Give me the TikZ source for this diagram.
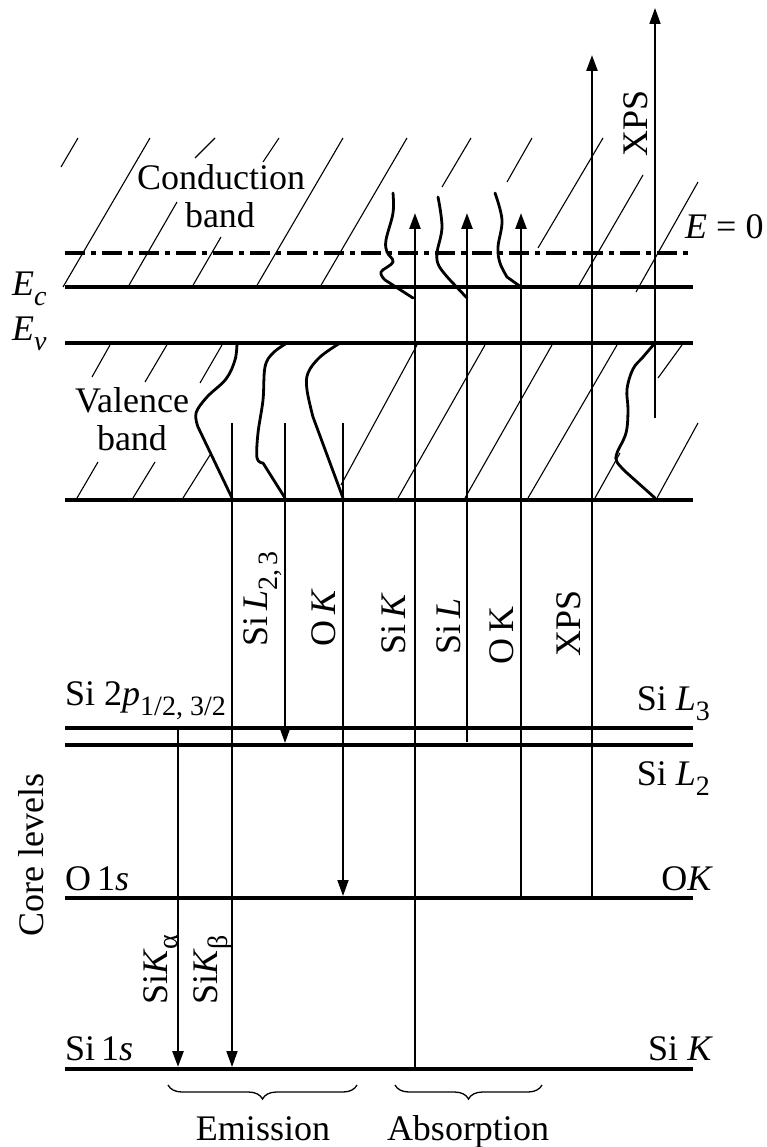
\documentclass[tikz,border=0pt]{standalone}
\usepackage{fontspec}
\setmainfont{Liberation Serif}
\usetikzlibrary{arrows.meta,decorations.pathreplacing}
\newcommand\lsb[1]{\raisebox{-10pt}{\fontsize{28}{28}\selectfont #1}}
\begin{document}
\begin{tikzpicture}[x=1pt,y=-1pt,
  every node/.style={font=\fontsize{36}{40}\selectfont, inner sep=0pt},
  level/.style={line width=3.6pt},
  hatch/.style={line width=1.1pt},
  dos/.style={line width=2.8pt, line join=round, line cap=round},
  tr/.style={line width=2.6pt},
  thintr/.style={line width=1.8pt},
  tip/.style={-{Triangle[length=16pt,width=11pt]}},
  rlab/.style={rotate=90, anchor=base west},
  brc/.style={decorate, decoration={brace, mirror, amplitude=14pt, aspect=0.5}, line width=1.3pt},
]
\useasboundingbox (0,0) rectangle (767,1147);

% ---------- hatching, conduction band ----------
\foreach \a/\b/\c/\d in {61/167/78/138, 63/287/150/138, 128/287/177/202, 195/158/215/138,
  192/287/221/237, 263/162/279/138, 256/287/343/138, 320/287/407/138,
  442/187/471/138, 507/182/532/138, 538/248/603/138, 578/287/643/175, 636/292/698/182}
  \draw[hatch] (\a,\b) -- (\c,\d);
% ---------- hatching, valence band ----------
\foreach \a/\b/\c/\d in {92/377/110/345, 77/498/98/462, 145/382/168/343, 133/498/155/462,
  200/383/222/345, 183/498/210/455, 341/485/417/345, 398/498/485/345, 465/498/552/345,
  528/498/617/345, 595/498/620/453, 658/378/682/345, 657/498/698/423}
  \draw[hatch] (\a,\b) -- (\c,\d);

% ---------- levels ----------
\coordinate (L0w) at (65,253);  \coordinate (L0e) at (693,253);
\coordinate (Ecw) at (65,287);  \coordinate (Ece) at (693,287);
\coordinate (Evw) at (65,343);  \coordinate (Eve) at (693,343);
\coordinate (Vbw) at (65,500);  \coordinate (Vbe) at (693,500);
\coordinate (L3w) at (65,728);  \coordinate (L3e) at (693,728);
\coordinate (L2w) at (65,745);  \coordinate (L2e) at (693,745);
\coordinate (Ow) at (65,898);   \coordinate (Oe) at (693,898);
\coordinate (Kw) at (65,1069);  \coordinate (Ke) at (693,1069);
\draw[level, dash pattern=on 20pt off 6pt on 5pt off 6pt] (L0w) -- (L0e);
\foreach \p in {Ec,Ev,Vb,L3,L2,K}
  \draw[level] (\p w) -- (\p e);
\draw[level] (Ow) -- (Oe);

% ---------- DOS curves, conduction band ----------
\draw[dos] plot[smooth, tension=0.6] coordinates {(393,193) (393,213) (386,240) (387,252) (393,262) (381,272) (385,280)} -- (413,298);
\draw[dos] plot[smooth, tension=0.6] coordinates {(438,197) (442,227) (437,253) (439,266) (450,280)} -- (467,298);
\draw[dos] plot[smooth, tension=0.6] coordinates {(495,193) (502,220) (498,247) (500,263) (507,277)} -- (521,287);
% ---------- DOS curves, valence band ----------
\draw[dos] plot[smooth, tension=0.6] coordinates {(237,343) (235,360) (226,379) (207,397) (196,413) (198,427)} -- (232,498);
\draw[dos] plot[smooth, tension=0.6] coordinates {(287,343) (273,353) (265,367) (263,400) (258,433) (257,458) (263,463)} -- (285,498);
\draw[dos] plot[smooth, tension=0.6] coordinates {(340,343) (320,357) (308,373) (307,390) (313,417)} -- (343,498);
\draw[dos] plot[smooth, tension=0.6] coordinates {(655,343) (643,357) (633,369) (627,389) (628,410) (626,433) (617,453) (617,462) (627,473)} -- (655,498);

% ---------- transitions ----------
\coordinate (sk0) at (415,1069); \coordinate (sk1) at (415,213);
\coordinate (sl0) at (467,742);  \coordinate (sl1) at (467,213);
\coordinate (ok0) at (521,898);  \coordinate (ok1) at (521,213);
\coordinate (xp0) at (592,898);  \coordinate (xp1) at (592,55);
\coordinate (xt0) at (655,418);  \coordinate (xt1) at (655,8);
\draw[tr,tip] (sk0) -- (sk1);
\draw[tr,tip] (sl0) -- (sl1);
\draw[tr,tip] (ok0) -- (ok1);
\draw[tr,tip] (xp0) -- (xp1);
\draw[thintr,tip] (xt0) -- (xt1);

\coordinate (ka0) at (178,728);  \coordinate (ka1) at (178,1067);
\coordinate (kb0) at (232,423);  \coordinate (kb1) at (232,1067);
\coordinate (le0) at (285,423);  \coordinate (le1) at (285,743);
\coordinate (oe0) at (343,423);  \coordinate (oe1) at (343,896);
\draw[tr,tip] (ka0) -- (ka1);
\draw[thintr,tip] (kb0) -- (kb1);
\draw[thintr,tip] (le0) -- (le1);
\draw[thintr,tip] (oe0) -- (oe1);

% ---------- labels ----------
\node[anchor=base] (cb1) at (221,190) {Conduction};
\node[anchor=base] (cb2) at (220,228) {band};
\node[anchor=base] (vb1) at (132,412) {Valence};
\node[anchor=base] (vb2) at (132,450) {band};
\node[anchor=base west] (ec) at (12,295) {\textit{E}\lsb{\textit{c}}};
\node[anchor=base west] (ev) at (12,340) {\textit{E}\lsb{\textit{v}}};
\node[anchor=base west] (e0) at (685,239) {\textit{E} = 0};

\node[anchor=base west] (l2p) at (65,705) {Si 2\textit{p}\lsb{1/2, 3/2}};
\node[anchor=base east] (l3) at (710,710) {Si \textit{L}\lsb{3}};
\node[anchor=base east] (l2) at (710,785) {Si \textit{L}\lsb{2}};
\node[anchor=base west] (o1s) at (65,890) {O\,1\textit{s}};
\node[anchor=base east] (ok) at (713,890) {O\textit{K}};
\node[anchor=base west] (si1s) at (65,1060) {Si\,1\textit{s}};
\node[anchor=base east] (sik) at (713,1060) {Si \textit{K}};

\node[rlab] (core) at (43,937) {Core levels};
\node[rlab] (tka) at (167,1005) {Si\textit{K}\lsb{α}};
\node[rlab] (tkb) at (217,1005) {Si\textit{K}\lsb{β}};
\node[rlab] (tl23) at (267,647) {Si\,\textit{L}\lsb{2,\,3}};
\node[rlab] (tok) at (335,647) {O\,\textit{K}};
\node[rlab] (tsk) at (405,655) {Si\,\textit{K}};
\node[rlab] (tsl) at (460,655) {Si\,\textit{L}};
\node[rlab] (tok2) at (513,665) {O\,K};
\node[rlab] (txps) at (580,657) {XPS};
\node[rlab] (txps2) at (647,157) {XPS};

% ---------- braces ----------
\coordinate (bem0) at (168,1085); \coordinate (bem1) at (357,1085);
\coordinate (bab0) at (395,1085); \coordinate (bab1) at (542,1085);
\draw[brc] (bem0) -- (bem1);
\draw[brc] (bab0) -- (bab1);
\node[anchor=base] (emi) at (263,1140) {Emission};
\node[anchor=base] (abs) at (468,1140) {Absorption};
\end{tikzpicture}
\end{document}
